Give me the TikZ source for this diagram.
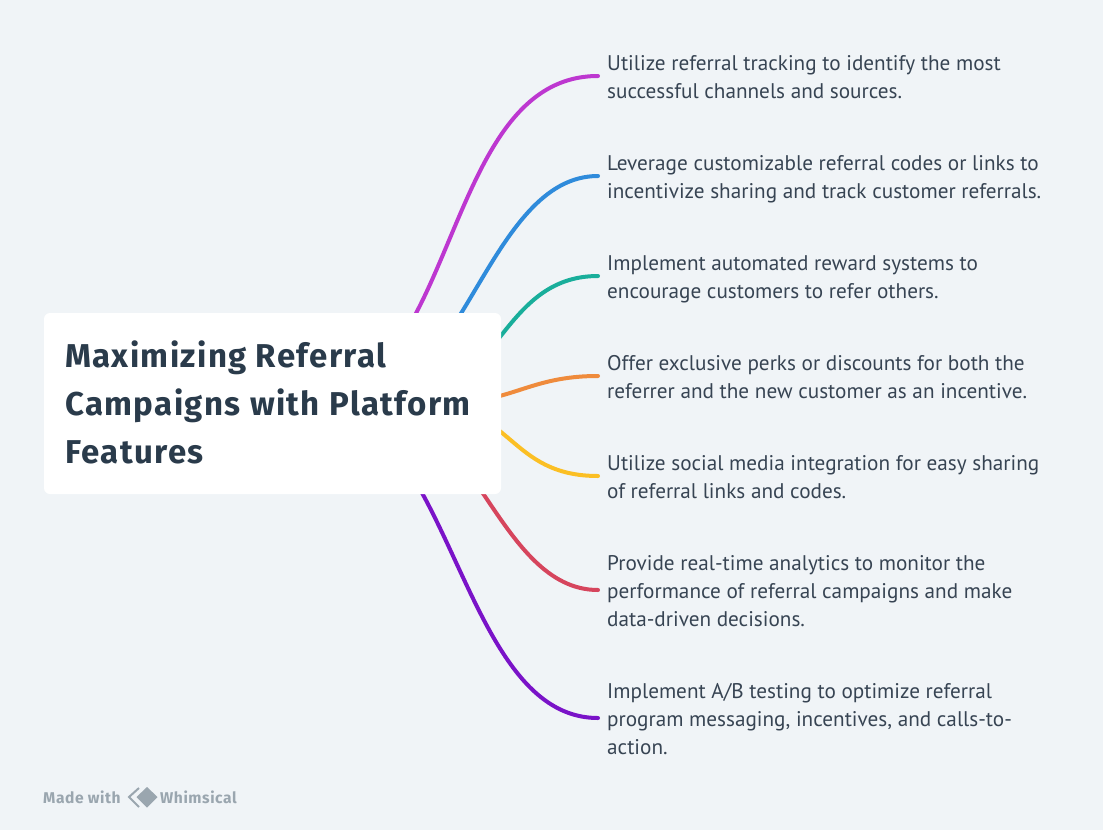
\documentclass[tikz,border=0pt]{standalone}
\usepackage{fontspec}
\setmainfont{PT Sans}
\newfontfamily\titlefont[LetterSpace=4.2]{Fira Sans}
\newfontfamily\brandfont[LetterSpace=3.5]{Fira Sans}
\usetikzlibrary{calc}
\usetikzlibrary{backgrounds}
\definecolor{pagebg}{HTML}{F0F4F7}
\definecolor{leaftext}{HTML}{374453}
\definecolor{roottext}{HTML}{2A3B4B}
\definecolor{markgrey}{HTML}{9AA6AF}
\definecolor{cpurple}{HTML}{BD37D0}
\definecolor{cblue}{HTML}{2F8BDB}
\definecolor{cteal}{HTML}{19AE9B}
\definecolor{corange}{HTML}{EF8B3C}
\definecolor{cyellow}{HTML}{FBBF24}
\definecolor{cred}{HTML}{D6455D}
\definecolor{cviolet}{HTML}{7A13C8}
\tikzset{
  leaf/.style={anchor=west, align=left, inner xsep=9pt, inner ysep=0pt, yshift=-5pt, text=leaftext,
    font=\fontsize{21.2}{28}\selectfont, execute at begin node=\strut, execute at end node=\strut},
  root/.style={fill=white, rounded corners=6pt, minimum width=457pt, minimum height=181pt,
    inner sep=0pt, text=roottext},
  branch/.style={line width=4pt, line cap=round},
  brand/.style={text=markgrey, inner sep=0pt, font=\brandfont\fontsize{15.6}{16}\selectfont\bfseries}
}
% #1 colour, #2 leaf, #3 start shift from the centre of the root, #4 handle length
\newcommand{\branch}[4]{ \draw[branch, #1] ($(root.center)+(#3,0)$) .. controls +(#4,0) and ($(#2.west)+(-#4,-5)$) .. ($(#2.west)+(0,-5)$);}

\begin{document}
\begin{tikzpicture}[x=1pt, y=-1pt]
        \useasboundingbox (0,0) rectangle (1103,830);

        % centre box
        \node[root] (root) at (272.5,403.5) {};
        \node[anchor=west, align=left, inner sep=0pt, text=roottext,
              font=\titlefont\fontsize{33}{48}\selectfont\bfseries] (title) at (65,402)
              {Maximizing Referral\\Campaigns with Platform\\Features};

        % right column
        \node[leaf] (track) at (598,76) {Utilize referral tracking to identify the most\\successful channels and sources.};
        \node[leaf] (codes) at (598,176) {Leverage customizable referral codes or links to\\incentivize sharing and track customer referrals.};
        \node[leaf] (reward) at (598,276) {Implement automated reward systems to\\encourage customers to refer others.};
        \node[leaf] (perks) at (598,376) {Offer exclusive perks or discounts for both the\\referrer and the new customer as an incentive.};
        \node[leaf] (social) at (598,476) {Utilize social media integration for easy sharing\\of referral links and codes.};
        \node[leaf] (stats) at (598,590) {Provide real-time analytics to monitor the\\performance of referral campaigns and make\\data-driven decisions.};
        \node[leaf] (abtest) at (598,718) {Implement A/B testing to optimize referral\\program messaging, incentives, and calls-to-\\action.};

        % footer
        \node[brand, anchor=west] (made) at (43,797) {Made with};
        \node[brand, anchor=west] (whim) at (160,797) {Whimsical};
        \fill[markgrey] (147,787) -- (157.5,797) -- (147,807.5) -- (136.5,797) -- cycle;
        \draw[markgrey, line width=2pt] (139,788) -- (129,797) -- (139,807);

        \begin{scope}[on background layer]
            \fill[pagebg] (0,0) rectangle (1103,830);
            \branch{cpurple}{track}{28}{160}
            \branch{cblue}{codes}{80}{110}
            \branch{cteal}{reward}{125}{100}
            \branch{corange}{perks}{170}{70}
            \branch{cyellow}{social}{150}{90}
            \branch{cred}{stats}{100}{100}
            \branch{cviolet}{abtest}{40}{140}
        \end{scope}
\end{tikzpicture}
\end{document}
